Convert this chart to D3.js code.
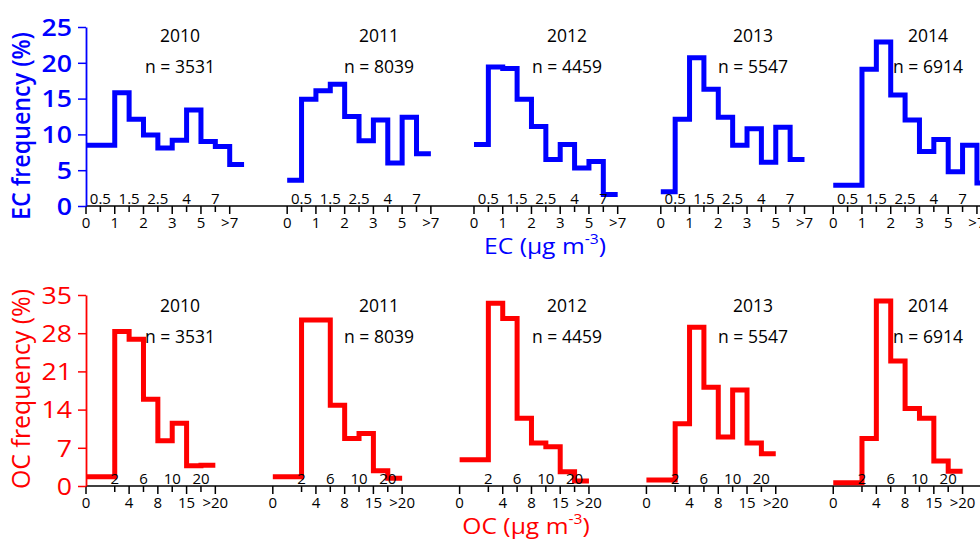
<!DOCTYPE html>
<html>
<head>
<meta charset="utf-8">
<script src="https://cdnjs.cloudflare.com/ajax/libs/d3/7.8.5/d3.min.js"></script>
<style>
  body { margin: 0; background: #fff; }
  svg { display: block; font-family: "Open Sans", sans-serif; }
</style>
</head>
<body>
<svg id="chart" width="980" height="541"></svg>
<script>
// years and sample counts (same for both rows)
var years = ["2010", "2011", "2012", "2013", "2014"];
var counts = [3531, 8039, 4459, 5547, 6914];

// bin edge labels, one slot per tick interval (null = no tick)
var ecEdges = ["0", "0.5", "1", "1.5", "2", "2.5", "3", "4", "5", "7", ">7"];
var ecUpper = ["0.5", "1.5", "2.5", "4", "7"];
var ocEdges = ["0", null, "2", "4", "6", "8", "10", "15", "20", ">20"];
var ocUpper = ["2", "6", "10", "20"];

// frequency (%) per tick interval
var ec2010 = [8.5, 8.5, 15.8, 12.1, 9.9, 8.1, 9.2, 13.4, 9.0, 8.3, 5.8];
var ec2011 = [3.6, 14.9, 16.1, 17.0, 12.5, 9.1, 12.0, 6.0, 12.4, 7.3];
var ec2012 = [8.6, 19.4, 19.2, 14.9, 11.1, 6.5, 8.6, 5.3, 6.2, 1.6];
var ec2013 = [2.0, 12.1, 20.7, 16.3, 12.4, 8.5, 10.8, 6.1, 11.0, 6.5];
var ec2014 = [2.9, 2.9, 19.1, 22.9, 15.5, 12.0, 7.6, 9.3, 4.8, 8.5, 3.2];

var oc2010 = [1.7, 1.7, 28.3, 26.9, 15.9, 8.3, 11.5, 3.7, 3.8];
var oc2011 = [1.7, 1.7, 30.4, 30.4, 14.8, 8.7, 9.6, 2.8, 1.4];
var oc2012 = [4.8, 4.8, 33.5, 30.7, 12.4, 7.9, 7.2, 2.6, 0.9];
var oc2013 = [1.1, 1.1, 11.4, 29.1, 18.1, 9.0, 17.6, 7.9, 5.9];
var oc2014 = [0.6, 0.6, 8.7, 33.9, 22.9, 14.2, 12.4, 4.6, 2.7];

var ecTicks = [0, 5, 10, 15, 20, 25];
var ocTicks = [0, 7, 14, 21, 28, 35];

var svg = d3.select("#chart");

// one shared horizontal grid, one unit per tick interval
var gx = d3.scaleLinear().domain([0, 1]).range([86, 100.37]);

var rows = [
  {
    series: [ec2010, ec2011, ec2012, ec2013, ec2014],
    edges: ecEdges, upper: ecUpper,
    offsets: [0, 14, 27, 40, 52],
    y: d3.scaleLinear().domain([0, 25]).range([206, 27]),
    ticks: ecTicks, minorStep: 2.5,
    color: "#0000ff", name: "EC",
    weight: 600,
    yearY: 42, nY: 73,
    yTitleY: 126, yTitleLen: 188,
    xTitleX: 545, xTitleY: 254
  },
  {
    series: [oc2010, oc2011, oc2012, oc2013, oc2014],
    edges: ocEdges, upper: ocUpper,
    offsets: [0, 13, 26, 39, 52],
    y: d3.scaleLinear().domain([0, 35]).range([486, 295]),
    ticks: ocTicks, minorStep: 3.5,
    color: "#ff0000", name: "OC",
    weight: 400,
    yearY: 312, nY: 343,
    yTitleY: 389, yTitleLen: 200,
    xTitleX: 526, xTitleY: 534
  }
];

var labelX = [180, 379, 567, 753, 928];

var line = d3.line().curve(d3.curveStepAfter);

rows.forEach(function(row){
  var y = row.y;
  var y0 = y(0);
  var g = svg.append("g");

  // x axis base line
  g.append("line")
    .attr("x1", gx(0)).attr("x2", 980)
    .attr("y1", y0).attr("y2", y0)
    .attr("stroke", "#000").attr("stroke-width", 1.6);

  // step histograms
  row.series.forEach(function(vals, p){
    var off = row.offsets[p];
    var pts = vals.map(function(v, i){ return [off + i, v]; });
    pts.push([off + vals.length, vals[vals.length - 1]]);
    line.x(function(d){ return gx(d[0]); }).y(function(d){ return y(d[1]); });
    g.append("path")
      .attr("d", line(pts))
      .attr("fill", "none")
      .attr("stroke", row.color)
      .attr("stroke-width", 5)
      .attr("stroke-linejoin", "miter");
  });

  // x ticks and labels per panel
  row.offsets.forEach(function(off, p){
    row.edges.forEach(function(lab, i){
      if(lab === null) return;
      var isUp = row.upper.indexOf(lab) >= 0;
      var x = gx(off + i);
      g.append("line")
        .attr("x1", x).attr("x2", x)
        .attr("y1", y0).attr("y2", y0 + (isUp ? 6 : 8))
        .attr("stroke", "#000").attr("stroke-width", 1.5);
      g.append("text")
        .attr("x", x)
        .attr("y", isUp ? y0 - 2 : y0 + 22)
        .attr("text-anchor", "middle")
        .attr("font-size", 15)
        .attr("fill", "#000")
        .text(lab);
    });

    g.append("text")
      .attr("x", labelX[p]).attr("y", row.yearY)
      .attr("text-anchor", "middle")
      .attr("font-size", 17.5).attr("font-weight", 500)
      .text(years[p]);
    g.append("text")
      .attr("x", labelX[p]).attr("y", row.nY)
      .attr("text-anchor", "middle")
      .attr("font-size", 17.5).attr("font-weight", 500)
      .text("n = " + counts[p]);
  });

  // y axis
  var minor = d3.range(row.minorStep, row.ticks[row.ticks.length - 1], row.minorStep * 2);
  var ax = g.append("g").attr("transform", "translate(" + gx(0) + ",0)");
  ax.call(d3.axisLeft(y).tickValues(minor).tickSize(4).tickFormat(""));
  ax.call(d3.axisLeft(y).tickValues(row.ticks).tickSize(8).tickSizeOuter(0).tickPadding(0));
  ax.selectAll("path.domain").attr("stroke", row.color).attr("stroke-width", 1.8);
  ax.selectAll(".tick line").attr("stroke", row.color).attr("stroke-width", 1.5);
  ax.selectAll(".tick text")
    .attr("fill", row.color)
    .attr("font-size", 23)
    .attr("font-weight", row.weight)
    .attr("font-family", "'Open Sans', sans-serif")
    .attr("x", -12)
    .attr("dy", "0.36em")
    .attr("transform", "scale(1.16,1)");

  // y title
  g.append("text")
    .attr("transform", "translate(30," + row.yTitleY + ") rotate(-90)")
    .attr("text-anchor", "middle")
    .attr("font-size", 25.5)
    .attr("font-weight", row.weight)
    .attr("fill", row.color)
    .attr("textLength", row.yTitleLen)
    .attr("lengthAdjust", "spacingAndGlyphs")
    .text(row.name + " frequency (%)");

  // x title
  var xt = g.append("text")
    .attr("transform", "translate(" + row.xTitleX + "," + row.xTitleY + ") scale(1.12,1)")
    .attr("text-anchor", "middle")
    .attr("font-size", 22)
    .attr("fill", row.color);
  xt.append("tspan").text(row.name + " (\u03bcg m");
  xt.append("tspan").attr("font-size", 14).attr("dy", -10).text("-3");
  xt.append("tspan").attr("dy", 10).text(")");
});
</script>
</body>
</html>
